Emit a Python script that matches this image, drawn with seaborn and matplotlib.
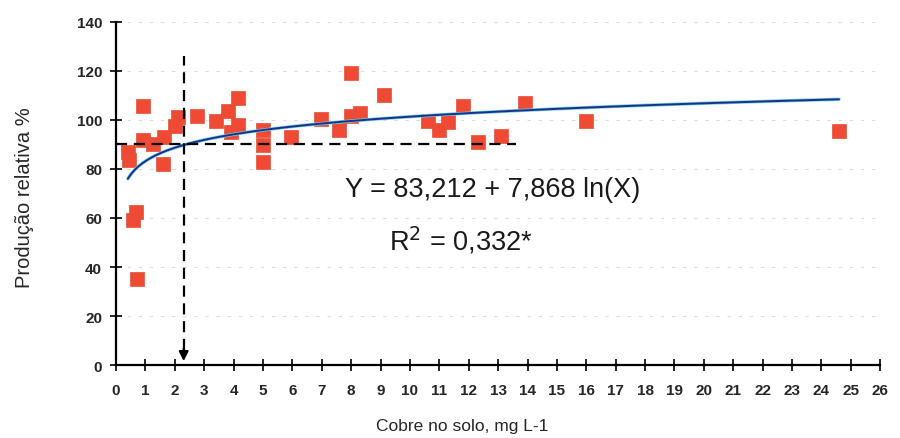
import numpy as np
import pandas as pd
import matplotlib
matplotlib.use("Agg")
import matplotlib.pyplot as plt
import seaborn as sns

# Data
cobre = [0.40, 0.45, 0.58, 0.68, 0.70, 0.92, 0.92, 1.25, 1.60, 1.63, 2.00, 2.10,
         2.75, 3.40, 3.80, 3.90, 4.15, 4.15, 5.00, 5.00, 5.00, 5.95, 6.97, 7.60,
         8.00, 8.00, 8.30, 9.10, 10.60, 11.00, 11.30, 11.80, 12.30, 13.10, 13.90,
         16.00, 24.60]
producao = [87.0, 83.5, 59.0, 62.5, 35.0, 105.7, 92.0, 90.0, 82.0, 93.0, 97.5, 101.0,
            101.6, 99.6, 103.7, 95.0, 109.0, 98.0, 96.0, 89.7, 83.0, 93.0, 100.4, 96.0,
            119.0, 101.6, 103.0, 110.0, 99.6, 96.0, 99.0, 105.7, 91.0, 93.5, 107.0,
            99.6, 95.5]
coef_a = 83.212
coef_b = 7.868
x_fit_range = [0.4, 24.6]
nivel_critico_x = 2.3
nivel_critico_y = 90
x_ticks = list(range(0, 27))
y_ticks = list(range(0, 141, 20))

df = pd.DataFrame({"cobre": cobre, "producao": producao})
xf = np.linspace(x_fit_range[0], x_fit_range[1], 300)
df_fit = pd.DataFrame({"x": xf, "y": coef_a + coef_b * np.log(xf)})

sns.set_theme(style="white")
plt.rcParams['font.family'] = ['Liberation Sans', 'DejaVu Sans']

fig = plt.figure(figsize=(9, 4.39), dpi=100)
ax = fig.add_axes([0.129, 0.166, 0.849, 0.782])

# faint grid
for yv in y_ticks[1:]:
    ax.axhline(yv, color="#dcdcdc", lw=0.8, ls=(0, (3, 7)), zorder=0)

sns.scatterplot(data=df, x="cobre", y="producao", ax=ax, marker="s", s=90,
                color="#ef4a34", edgecolor="#e0503a", linewidth=0.5, zorder=3)
sns.lineplot(data=df_fit, x="x", y="y", ax=ax, color="#6fd0e0", lw=2.4, zorder=4)
sns.lineplot(data=df_fit, x="x", y="y", ax=ax, color="#1d2f8c", lw=1.4, zorder=5)

# critical level dashed lines
ax.plot([0, 13.6], [nivel_critico_y, nivel_critico_y], color="black", lw=1.6,
        ls=(0, (5, 3)), zorder=6)
ax.plot([nivel_critico_x, nivel_critico_x], [6, 126], color="black", lw=1.6,
        ls=(0, (5, 3)), zorder=6)
ax.annotate("", xy=(nivel_critico_x, 0.5), xytext=(nivel_critico_x, 8),
            arrowprops=dict(arrowstyle="-|>", color="black", lw=1.5,
                            mutation_scale=14), zorder=7)

ax.text(7.8, 72, "Y = 83,212 + 7,868 ln(X)", fontsize=19.5, va="center", ha="left",
        color="#1a1a1a")
ax.text(9.3, 51, "R$^2$ = 0,332*", fontsize=19.5, va="center", ha="left",
        color="#1a1a1a")

ax.set_xlim(0, 26)
ax.set_ylim(0, 140)
ax.set_xticks(x_ticks)
ax.set_yticks(y_ticks)
ax.set_xticklabels([str(t) for t in x_ticks], fontsize=11, fontweight="bold")
ax.set_yticklabels([str(t) for t in y_ticks], fontsize=11, fontweight="bold")
ax.tick_params(axis="both", direction="inout", length=8, width=1.2, color="black",
               pad=6, left=True, bottom=True)
ax.tick_params(axis="x", pad=9)
ax.set_xlabel("Cobre no solo, mg L-1", fontsize=12.5)
ax.set_ylabel("Produção relativa %", fontsize=14.5)
ax.xaxis.set_label_coords(0.453, -0.155)
ax.yaxis.set_label_coords(-0.108, 0.49)

sns.despine(ax=ax)
for sp in ["left", "bottom"]:
    ax.spines[sp].set_color("black")
    ax.spines[sp].set_linewidth(1.6)

fig.savefig("out.png", dpi=100)
